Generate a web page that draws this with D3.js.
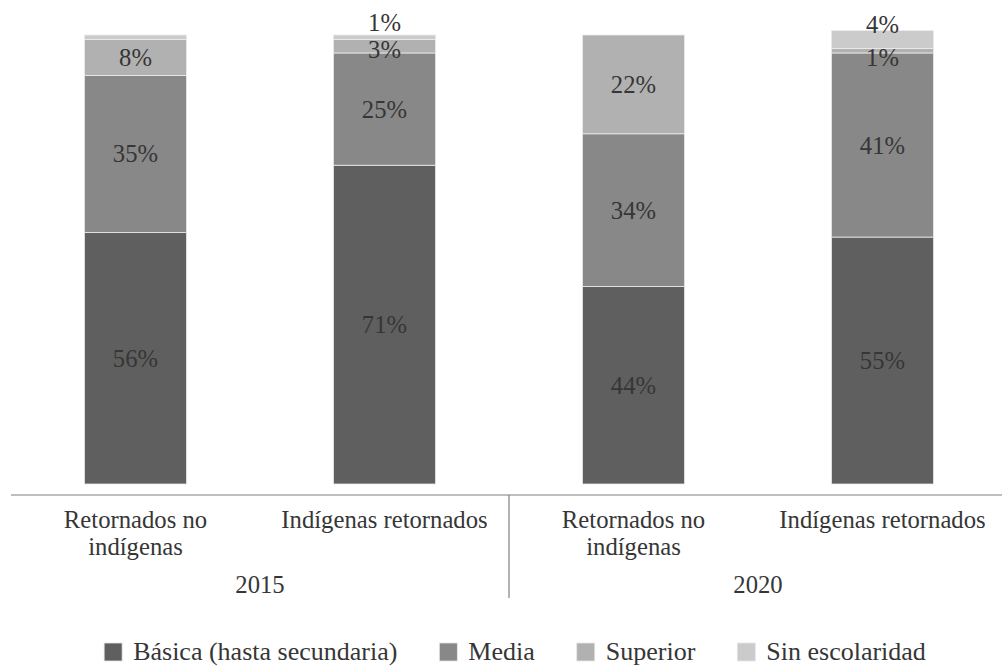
<!DOCTYPE html>
<html>
<head>
<meta charset="utf-8">
<script src="https://cdn.jsdelivr.net/npm/d3@7"></script>
<style>
  html, body { margin: 0; padding: 0; background: #fff; }
  svg { display: block; }
</style>
</head>
<body>
<svg id="chart" width="1002" height="667"></svg>
<script>
// Nivel educativo de la población retornada, por condición indígena (%)
const years = ["2015", "2020"];
const groups = ["Retornados no indígenas", "Indígenas retornados"];
const seriesNames = ["Básica (hasta secundaria)", "Media", "Superior", "Sin escolaridad"];

// one value per bar, in order: 2015 no indígenas, 2015 indígenas, 2020 no indígenas, 2020 indígenas
const basica = [56, 71, 44, 55];
const media = [35, 25, 34, 41];
const superior = [8, 3, 22, 1];
const sinEscolaridad = [1, 1, 0, 4];

// bar segments whose value is not printed
const unlabeled = ["0|Sin escolaridad"];

const colors = ["#5f5f5f", "#888888", "#b1b1b1", "#cbcbcb"];

const svg = d3.select("#chart");
const font = "'Liberation Serif', 'Times New Roman', serif";
const textColor = "#363636";
const squeeze = 0.95;   // narrow serif look
const fontSize = 26;

const bars = [];
years.forEach(y => groups.forEach(g => bars.push({ year: y, group: g, key: y + "|" + g })));
const seriesValues = [basica, media, superior, sinEscolaridad];
const rows = bars.map((b, i) => {
  const row = { key: b.key, idx: i };
  seriesNames.forEach((s, j) => row[s] = seriesValues[j][i]);
  return row;
});

const stacked = d3.stack().keys(seriesNames)(rows);

const x = d3.scaleBand()
  .domain(bars.map(b => b.key))
  .range([11, 1007])
  .paddingInner(0.59)
  .paddingOuter(0.295);

const y = d3.scaleLinear().domain([0, 100]).range([484, 35]);

// segments
const layer = svg.append("g")
  .selectAll("g")
  .data(stacked)
  .join("g")
  .attr("fill", (d, i) => colors[i]);

layer.selectAll("rect")
  .data(d => d.map(p => ({ p, series: d.key })))
  .join("rect")
  .attr("x", d => x(d.p.data.key))
  .attr("width", x.bandwidth())
  .attr("y", d => y(d.p[1]))
  .attr("height", d => y(d.p[0]) - y(d.p[1]))
  .attr("stroke", "#ececec")
  .attr("stroke-width", 0.8);

// small stacked segments get their label pulled clear of the neighbours
function labelShift(idx, series) {
  if (idx === 1 && series === "Sin escolaridad") return -15;
  if (idx === 1 && series === "Superior") return 3;
  if (idx === 3 && series === "Sin escolaridad") return -15;
  if (idx === 3 && series === "Superior") return 7;
  return 0;
}

const labels = [];
stacked.forEach(s => s.forEach(p => {
  const v = p[1] - p[0];
  if (v <= 0) return;
  if (unlabeled.includes(p.data.idx + "|" + s.key)) return;
  labels.push({
    x: x(p.data.key) + x.bandwidth() / 2,
    y: (y(p[0]) + y(p[1])) / 2 + labelShift(p.data.idx, s.key),
    text: v + "%"
  });
}));

function styled(sel, size) {
  return sel
    .attr("font-family", font)
    .attr("font-size", size)
    .attr("fill", textColor);
}

svg.append("g").selectAll("text")
  .data(labels)
  .join("text")
  .attr("transform", d => `translate(${d.x},${d.y + 8.5}) scale(${squeeze},1)`)
  .attr("text-anchor", "middle")
  .call(styled, fontSize)
  .text(d => d.text);

// category axis
const axisY = 495;
svg.append("line")
  .attr("x1", 11).attr("x2", 1002)
  .attr("y1", axisY).attr("y2", axisY)
  .attr("stroke", "#a8a8a8").attr("stroke-width", 1.5);

const step = x.step();
const groupStart = yr => x(yr + "|" + groups[0]) - x.paddingOuter() * step;

// divider between the year blocks
svg.append("line")
  .attr("x1", groupStart(years[1])).attr("x2", groupStart(years[1]))
  .attr("y1", axisY).attr("y2", 598)
  .attr("stroke", "#808080").attr("stroke-width", 1.2);

function wrap(textSel, maxWidth, lineHeight) {
  textSel.each(function () {
    const t = d3.select(this);
    const words = t.text().split(" ");
    t.text(null);
    let line = [];
    let tspan = t.append("tspan").attr("x", 0).attr("dy", 0);
    words.forEach(w => {
      line.push(w);
      tspan.text(line.join(" "));
      if (tspan.node().getComputedTextLength() * squeeze > maxWidth && line.length > 1) {
        line.pop();
        tspan.text(line.join(" "));
        line = [w];
        tspan = t.append("tspan").attr("x", 0).attr("dy", lineHeight).text(w);
      }
    });
  });
}

svg.append("g").selectAll("text")
  .data(bars)
  .join("text")
  .attr("transform", d => `translate(${x(d.key) + x.bandwidth() / 2},528) scale(${squeeze},1)`)
  .attr("text-anchor", "middle")
  .call(styled, fontSize)
  .text(d => d.group)
  .call(wrap, 232, 27);

svg.append("g").selectAll("text")
  .data(years)
  .join("text")
  .attr("transform", d => `translate(${groupStart(d) + step},593) scale(${squeeze},1)`)
  .attr("text-anchor", "middle")
  .call(styled, fontSize)
  .text(d => d);

// legend
const legend = svg.append("g");
const items = legend.selectAll("g")
  .data(seriesNames)
  .join("g");
items.append("rect")
  .attr("width", 18).attr("height", 18)
  .attr("y", 643)
  .attr("fill", (d, i) => colors[i])
  .attr("stroke", "#e6e6e6").attr("stroke-width", 0.8);
items.append("text")
  .attr("x", 29)
  .attr("y", 660)
  .call(styled, 26)
  .text(d => d);

const gap = 42;
const widths = [];
items.each(function () {
  const tw = d3.select(this).select("text").node().getComputedTextLength();
  widths.push(29 + tw);
});
const total = d3.sum(widths) + gap * (widths.length - 1);
let cx = 515 - total / 2;
items.attr("transform", (d, i) => {
  const t = `translate(${cx},0)`;
  cx += widths[i] + gap;
  return t;
});
</script>
</body>
</html>
